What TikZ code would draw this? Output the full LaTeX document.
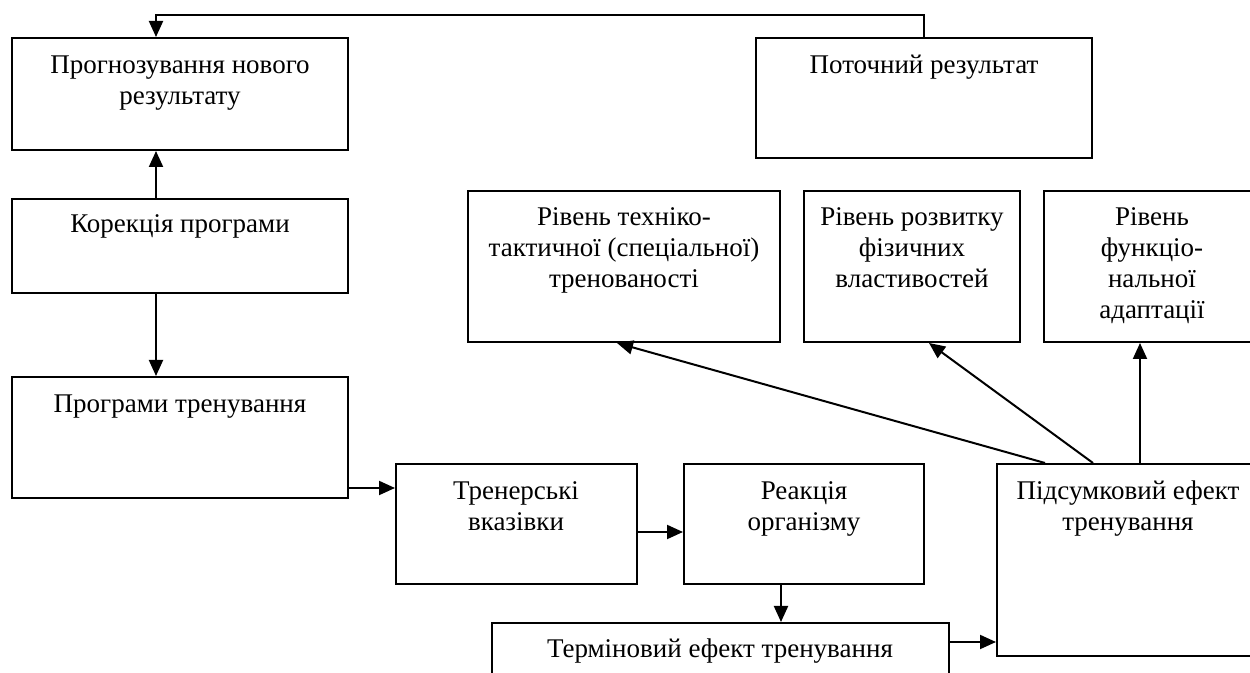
\documentclass[tikz,border=0pt]{standalone}
\usepackage{fontspec}
\setmainfont{Liberation Serif}
\usetikzlibrary{arrows.meta,fit}
\begin{document}
\begin{tikzpicture}[x=0.5pt,y=-0.5pt,
  box/.style={draw,line width=1pt,inner sep=0pt},
  lbl/.style={font=\fontsize{13.5}{15.5}\selectfont,align=center,anchor=base,inner sep=0pt},
  arr/.style={line width=1pt,-{Triangle[length=8pt,width=7pt]}}]
\clip (0,0) rectangle (1250,673);
% boxes
\node[box,fit={(12,38) (348,150)}] (A) {};
\node[box,fit={(756,38) (1092,158)}] (B) {};
\node[box,fit={(12,199) (348,293)}] (C) {};
\node[box,fit={(12,377) (348,498)}] (D) {};
\node[box,fit={(468,191) (780,342)}] (I) {};
\node[box,fit={(804,191) (1020,342)}] (J) {};
\node[box,fit={(1044,191) (1260,342)}] (K) {};
\node[box,fit={(396,464) (637,584)}] (E) {};
\node[box,fit={(684,464) (924,584)}] (F) {};
\node[box,fit={(997,464) (1260,656)}] (H) {};
\node[box,fit={(492,623) (949,705)}] (G) {};
% labels (anchor = baseline of the last line)
\node[lbl] (tA) at (180,105) {Прогнозування нового\\результату};
\node[lbl] (tB) at (924,74) {Поточний результат};
\node[lbl] (tC) at (180,233) {Корекція програми};
\node[lbl] (tD) at (180,413) {Програми тренування};
\node[lbl] (tI) at (624,288) {Рівень техніко-\\тактичної (спеціальної)\\тренованості};
\node[lbl] (tJ) at (912,288) {Рівень розвитку\\фізичних\\властивостей};
\node[lbl] (tK) at (1152,319) {Рівень\\функціо-\\нальної\\адаптації};
\node[lbl] (tE) at (516,531) {Тренерські\\вказівки};
\node[lbl] (tF) at (804,531) {Реакція\\організму};
\node[lbl] (tH) at (1128,531) {Підсумковий ефект\\тренування};
\node[lbl] (tG) at (720,658) {Терміновий ефект тренування};
% helper coordinates
\coordinate (fb) at (156,15);
\coordinate (y1) at (0,488);
\coordinate (y2) at (0,532);
\coordinate (x3) at (781,0);
\coordinate (y4) at (0,642);
\coordinate (h1) at (1045,0);
\coordinate (h2) at (1093,0);
\coordinate (h3) at (1140,0);
\coordinate (i1) at (617,0);
\coordinate (j1) at (929,0);
% connectors
\draw[arr] (B.north) |- (fb) -- (fb |- A.north);
\draw[arr] (fb |- C.north) -- (fb |- A.south);
\draw[arr] (fb |- C.south) -- (fb |- D.north);
\draw[arr] (D.east |- y1) -- (E.west |- y1);
\draw[arr] (E.east |- y2) -- (F.west |- y2);
\draw[arr] (x3 |- F.south) -- (x3 |- G.north);
\draw[arr] (G.east |- y4) -- (H.west |- y4);
\draw[arr] (h1 |- H.north) -- (i1 |- I.south);
\draw[arr] (h2 |- H.north) -- (j1 |- J.south);
\draw[arr] (h3 |- H.north) -- (h3 |- K.south);
\end{tikzpicture}
\end{document}
